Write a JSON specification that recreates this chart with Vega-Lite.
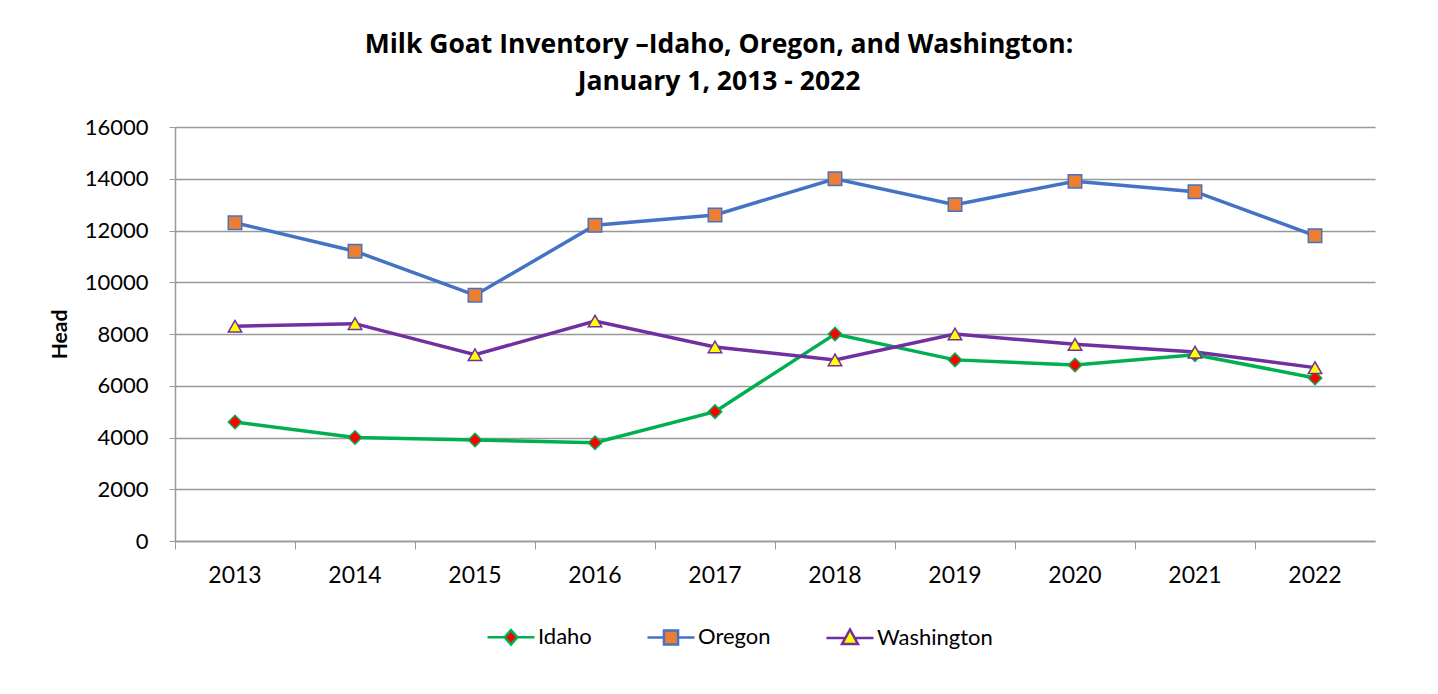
{
  "$schema": "https://vega.github.io/schema/vega-lite/v6.json",
  "width": 1200,
  "height": 414,
  "autosize": "none",
  "padding": {"left": 175, "top": 127, "right": 63, "bottom": 153},
  "background": "white",
  "title": {
    "text": ["Milk Goat Inventory –Idaho, Oregon, and Washington:", "January 1, 2013 - 2022"],
    "font": "Open Sans",
    "fontSize": 26.5,
    "fontWeight": "bold",
    "color": "#000000",
    "anchor": "middle",
    "frame": "group",
    "dx": -56,
    "offset": 21,
    "lineHeight": 37
  },
  "data": {
    "values": [
      {"year": "2013", "series": "Idaho", "head": 4600},
      {"year": "2014", "series": "Idaho", "head": 4000},
      {"year": "2015", "series": "Idaho", "head": 3900},
      {"year": "2016", "series": "Idaho", "head": 3800},
      {"year": "2017", "series": "Idaho", "head": 5000},
      {"year": "2018", "series": "Idaho", "head": 8000},
      {"year": "2019", "series": "Idaho", "head": 7000},
      {"year": "2020", "series": "Idaho", "head": 6800},
      {"year": "2021", "series": "Idaho", "head": 7200},
      {"year": "2022", "series": "Idaho", "head": 6300},
      {"year": "2013", "series": "Oregon", "head": 12300},
      {"year": "2014", "series": "Oregon", "head": 11200},
      {"year": "2015", "series": "Oregon", "head": 9500},
      {"year": "2016", "series": "Oregon", "head": 12200},
      {"year": "2017", "series": "Oregon", "head": 12600},
      {"year": "2018", "series": "Oregon", "head": 14000},
      {"year": "2019", "series": "Oregon", "head": 13000},
      {"year": "2020", "series": "Oregon", "head": 13900},
      {"year": "2021", "series": "Oregon", "head": 13500},
      {"year": "2022", "series": "Oregon", "head": 11800},
      {"year": "2013", "series": "Washington", "head": 8300},
      {"year": "2014", "series": "Washington", "head": 8400},
      {"year": "2015", "series": "Washington", "head": 7200},
      {"year": "2016", "series": "Washington", "head": 8500},
      {"year": "2017", "series": "Washington", "head": 7500},
      {"year": "2018", "series": "Washington", "head": 7000},
      {"year": "2019", "series": "Washington", "head": 8000},
      {"year": "2020", "series": "Washington", "head": 7600},
      {"year": "2021", "series": "Washington", "head": 7300},
      {"year": "2022", "series": "Washington", "head": 6700}
    ]
  },
  "encoding": {
    "x": {
      "field": "year",
      "type": "ordinal",
      "scale": {"type": "band", "paddingInner": 0, "paddingOuter": 0},
      "axis": {
        "title": null,
        "labelAngle": 0,
        "labelFont": "Lato",
        "labelFontSize": 23,
        "labelColor": "#000000",
        "labelPadding": 15,
        "bandPosition": 0,
        "tickColor": "#999999",
        "tickSize": 8,
        "domainColor": "#999999",
        "domainWidth": 1.5,
        "grid": false
      }
    },
    "y": {
      "field": "head",
      "type": "quantitative",
      "scale": {"domain": [0, 16000], "nice": false},
      "axis": {
        "title": "Head",
        "titleFont": "Lato",
        "titleFontSize": 21,
        "titleFontWeight": "bold",
        "titleColor": "#000000",
        "titlePadding": 14,
        "values": [0, 2000, 4000, 6000, 8000, 10000, 12000, 14000, 16000],
        "format": "d",
        "labelFont": "Lato",
        "labelFontSize": 22,
        "labelColor": "#000000",
        "labelPadding": 21,
        "ticks": true,
        "tickSize": 6,
        "tickColor": "#999999",
        "domainColor": "#999999",
        "domainWidth": 1.5,
        "grid": true,
        "gridColor": "#999999",
        "gridWidth": 1.3
      }
    }
  },
  "layer": [
    {
      "mark": {"type": "line", "strokeWidth": 3.5},
      "encoding": {
        "stroke": {
          "field": "series",
          "type": "nominal",
          "scale": {"domain": ["Idaho", "Oregon", "Washington"], "range": ["#00B050", "#4472C4", "#7030A0"]},
          "legend": {
            "title": null,
            "orient": "none",
            "legendX": 311,
            "legendY": 485,
            "direction": "horizontal",
            "symbolType": "stroke",
            "symbolSize": 2209,
            "symbolStrokeWidth": 3,
            "labelFont": "Lato",
            "labelFontSize": 22,
            "labelColor": "#000000",
            "labelOffset": 2,
            "columnPadding": 50,
            "encode": {
              "symbols": {
                "update": {
                  "shape": {"signal": "datum.value === 'Idaho' ? 'M-1,0L-0.27,0M0.27,0L1,0M-0.27,0L0,-0.31L0.27,0L0,0.31Z' : datum.value === 'Oregon' ? 'M-1,0L-0.3,0M0.3,0L1,0M-0.3,-0.3L0.3,-0.3L0.3,0.3L-0.3,0.3Z' : 'M-1,0L-0.21,0M0.21,0L1,0M0,-0.36L0.34,0.26L-0.34,0.26Z'"},
                  "fill": {"scale": "fill", "field": "value"},
                  "stroke": {"scale": "stroke", "field": "value"},
                  "strokeWidth": {"value": 2.5},
                  "opacity": {"value": 1},
                  "fillOpacity": {"value": 1}
                }
              }
            }
          }
        }
      }
    },
    {
      "mark": {"type": "point", "filled": true, "size": 180, "opacity": 1, "strokeWidth": 1.5},
      "encoding": {
        "shape": {
          "field": "series",
          "type": "nominal",
          "scale": {"range": ["diamond", "square", "triangle-up"]},
          "legend": null
        },
        "fill": {
          "field": "series",
          "type": "nominal",
          "scale": {"range": ["#FF0000", "#ED7D31", "#FFFF00"]},
          "legend": null
        },
        "stroke": {"field": "series", "type": "nominal", "legend": null}
      }
    }
  ],
  "config": {
    "view": {"stroke": null}
  }
}
